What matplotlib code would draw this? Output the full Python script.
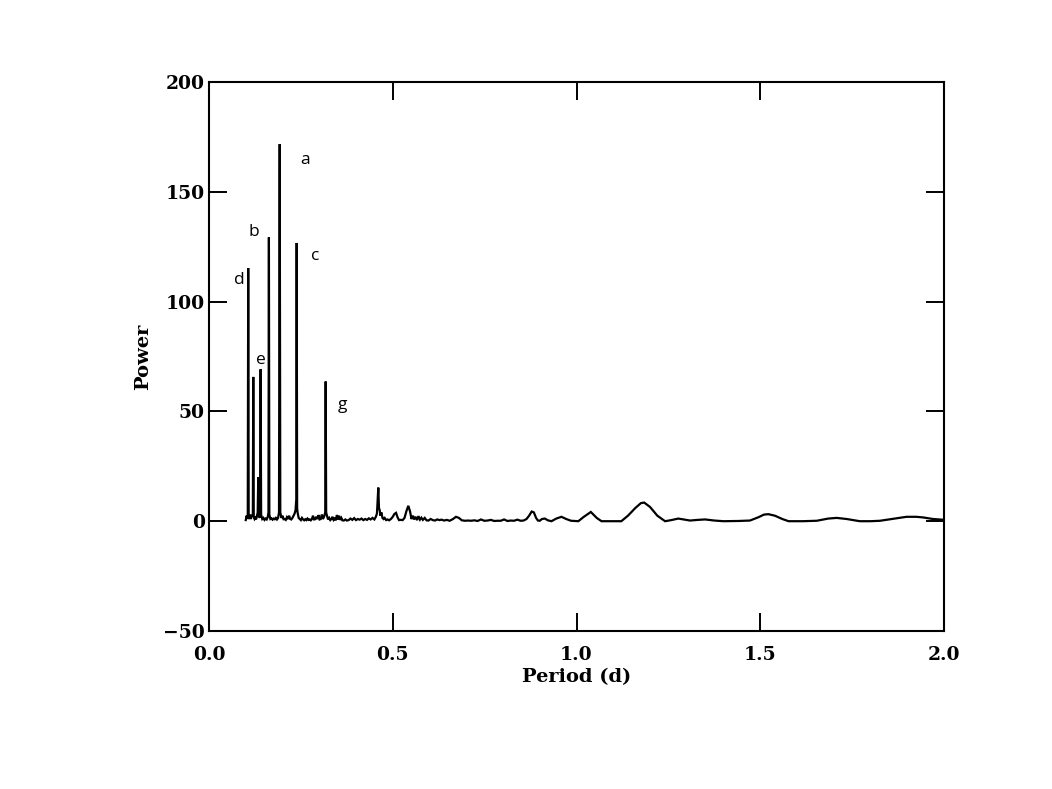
import matplotlib
matplotlib.use("Agg")
import matplotlib.pyplot as plt

# ---- data ----
period = [
    0.100, 0.1025, 0.104, 0.1055, 0.1067, 0.108, 0.110, 0.1125, 0.1140, 0.1155,
    0.1193, 0.1205, 0.1218, 0.124, 0.126, 0.128, 0.130, 0.1325, 0.1340, 0.1352,
    0.1380, 0.1393, 0.1405, 0.1418, 0.145, 0.148, 0.151, 0.154, 0.157, 0.160,
    0.1618, 0.1630, 0.1642, 0.167, 0.170, 0.173, 0.176, 0.179, 0.182, 0.185,
    0.188, 0.1905, 0.1924, 0.1940, 0.197, 0.200, 0.203, 0.206, 0.209, 0.212,
    0.215, 0.218, 0.221, 0.224, 0.227, 0.230, 0.233, 0.2355, 0.2375, 0.2386,
    0.2398, 0.241, 0.244, 0.247, 0.250, 0.253, 0.256, 0.259, 0.262, 0.265,
    0.268, 0.271, 0.274, 0.277, 0.280, 0.283, 0.286, 0.289, 0.292, 0.295,
    0.298, 0.301, 0.304, 0.307, 0.310, 0.313, 0.3163, 0.3175, 0.3188, 0.321,
    0.324, 0.327, 0.330, 0.333, 0.336, 0.339, 0.342, 0.345, 0.348, 0.351,
    0.354, 0.357, 0.360, 0.363, 0.367, 0.371, 0.375,
    0.380, 0.385, 0.390, 0.395, 0.400, 0.405, 0.410, 0.415, 0.420, 0.425,
    0.430, 0.435, 0.440, 0.445, 0.450, 0.454, 0.457, 0.4595, 0.4607, 0.4625,
    0.4645, 0.4665, 0.469, 0.472, 0.475, 0.478, 0.482, 0.486, 0.490, 0.495,
    0.500, 0.5045, 0.509, 0.513, 0.517, 0.522, 0.527, 0.532, 0.537, 0.5424,
    0.547, 0.551, 0.555, 0.558, 0.562, 0.566, 0.570, 0.574, 0.578, 0.582,
    0.587, 0.592, 0.597, 0.603, 0.609, 0.615, 0.621, 0.627, 0.633, 0.640,
    0.647, 0.655, 0.664, 0.672, 0.680, 0.688, 0.697, 0.705, 0.713, 0.722,
    0.731, 0.740, 0.749, 0.758, 0.767, 0.776, 0.785, 0.794, 0.803, 0.812,
    0.821, 0.830, 0.839, 0.848, 0.856, 0.864, 0.871, 0.878, 0.884, 0.890,
    0.895, 0.900, 0.906, 0.914, 0.922, 0.932, 0.945, 0.959, 0.972, 0.985,
    1.005, 1.020, 1.039, 1.055, 1.068, 1.095, 1.122, 1.140, 1.160, 1.175,
    1.184, 1.200, 1.220, 1.241, 1.258, 1.277, 1.295, 1.309, 1.330, 1.350,
    1.375, 1.400, 1.440, 1.472, 1.495, 1.510, 1.522, 1.540, 1.560, 1.577,
    1.615, 1.654, 1.685, 1.708, 1.735, 1.771, 1.800, 1.826, 1.865, 1.898,
    1.925, 1.944, 1.970, 1.994, 2.000,
]
power = [
    0.5, 2.5, 1.0, 3.0, 115.3, 2.0, 1.0, 3.0, 1.0, 2.0,
    3.0, 65.7, 2.0, 1.0, 1.5, 0.8, 2.0, 4.0, 20.0, 3.0,
    1.5, 4.0, 69.2, 3.0, 1.0, 1.5, 0.6, 1.2, 0.8, 2.0,
    4.0, 129.3, 3.0, 1.0, 1.3, 0.7, 1.2, 0.9, 1.5, 0.8,
    1.5, 4.0, 171.7, 4.0, 1.5, 2.5, 0.9, 1.0, 0.6, 1.8,
    1.0, 2.5, 1.0, 0.8, 1.5, 2.5, 3.5, 5.0, 10.0, 126.7,
    6.0, 4.0, 1.5, 1.0, 0.5, 1.5, 0.8, 0.4, 0.9, 0.5,
    1.2, 0.6, 0.8, 0.4, 1.0, 2.5, 0.8, 0.9, 2.0, 1.0,
    2.8, 0.8, 1.0, 3.0, 1.0, 2.0, 4.0, 63.6, 4.0, 2.5,
    0.8, 1.5, 0.5, 1.0, 2.0, 0.6, 1.2, 0.4, 2.8, 0.8,
    2.5, 0.6, 1.5, 0.4, 0.3, 0.8, 0.3,
    0.5, 1.2, 0.6, 1.4, 0.5, 1.0, 0.7, 1.2, 0.5, 1.0,
    0.6, 1.3, 0.8, 1.5, 0.8, 2.0, 3.5, 12.0, 15.3, 6.0,
    5.0, 2.5, 4.0, 1.5, 1.0, 1.5, 0.5, 0.8, 0.4, 1.0,
    2.0, 3.3, 3.8, 1.8, 0.5, 0.6, 0.5, 1.5, 4.5, 7.0,
    4.5, 1.0, 2.5, 0.8, 2.0, 0.5, 2.3, 0.7, 1.6, 0.6,
    1.5, 0.4, 0.3, 1.0, 0.5, 0.3, 0.8, 0.5, 0.7, 0.3,
    0.6, 0.2, 1.0, 2.0, 1.5, 0.4, 0.2, 0.3, 0.2, 0.4,
    0.1, 0.8, 0.2, 0.3, 0.6, 0.1, 0.2, 0.2, 0.8, 0.1,
    0.3, 0.2, 0.7, 0.2, 0.3, 1.0, 2.5, 4.4, 4.0, 1.5,
    0.3, 0.2, 1.0, 1.2, 0.4, 0.0, 1.2, 2.0, 1.0, 0.2,
    0.0, 2.0, 4.2, 1.5, 0.0, 0.0, 0.0, 2.5, 6.0, 8.2,
    8.5, 6.5, 2.5, 0.0, 0.5, 1.2, 0.7, 0.3, 0.6, 0.8,
    0.3, 0.0, 0.1, 0.3, 1.8, 3.0, 3.2, 2.5, 1.0, 0.0,
    0.0, 0.2, 1.2, 1.5, 1.0, 0.0, 0.0, 0.2, 1.2, 2.0,
    2.0, 1.7, 1.0, 0.7, 0.7,
]

peak_labels = ["a", "b", "c", "d", "e", "g"]
label_x = [0.261, 0.122, 0.288, 0.084, 0.1415, 0.362]
label_y = [164.4, 131.6, 120.7, 109.7, 73.3, 52.8]

x_ticks = [0.0, 0.5, 1.0, 1.5, 2.0]
x_ticklabels = ["0.0", "0.5", "1.0", "1.5", "2.0"]
y_ticks = [-50, 0, 50, 100, 150, 200]
y_ticklabels = ["\u221250", "0", "50", "100", "150", "200"]

# ---- figure ----
fig = plt.figure(figsize=(10.52, 7.89), dpi=100)
ax = fig.add_axes([209 / 1052, 1 - 631 / 789, (944 - 209) / 1052, (631 - 82) / 789])

ax.plot(period, power, color="black", lw=1.6, solid_joinstyle="miter")

ax.set_xlim(0.0, 2.0)
ax.set_ylim(-50, 200)

tickfont = dict(family="DejaVu Serif", weight="bold", size=13.5)
ax.set_xticks(x_ticks)
ax.set_xticklabels(x_ticklabels, **tickfont)
ax.set_yticks(y_ticks)
ax.set_yticklabels(y_ticklabels, **tickfont)
ax.tick_params(direction="in", length=13, width=1.4, top=True, right=True)
ax.tick_params(axis="x", pad=11)
ax.tick_params(axis="y", pad=3)
# hide ticks at the axis ends like the reference
for t in (ax.xaxis.get_major_ticks()[0], ax.xaxis.get_major_ticks()[-1]):
    t.tick1line.set_visible(False)
    t.tick2line.set_visible(False)
for t in (ax.yaxis.get_major_ticks()[0], ax.yaxis.get_major_ticks()[-1]):
    t.tick1line.set_visible(False)
    t.tick2line.set_visible(False)

for s in ax.spines.values():
    s.set_linewidth(1.5)

ax.set_xlabel("Period (d)", family="DejaVu Serif", weight="bold", size=14, labelpad=3)
ax.set_ylabel("Power", family="DejaVu Serif", weight="bold", size=14, labelpad=8)

for lab, lx, ly in zip(peak_labels, label_x, label_y):
    ax.text(lx, ly, lab, ha="center", va="center", family="Open Sans", size=12.5)

fig.savefig("out.png", dpi=100)
